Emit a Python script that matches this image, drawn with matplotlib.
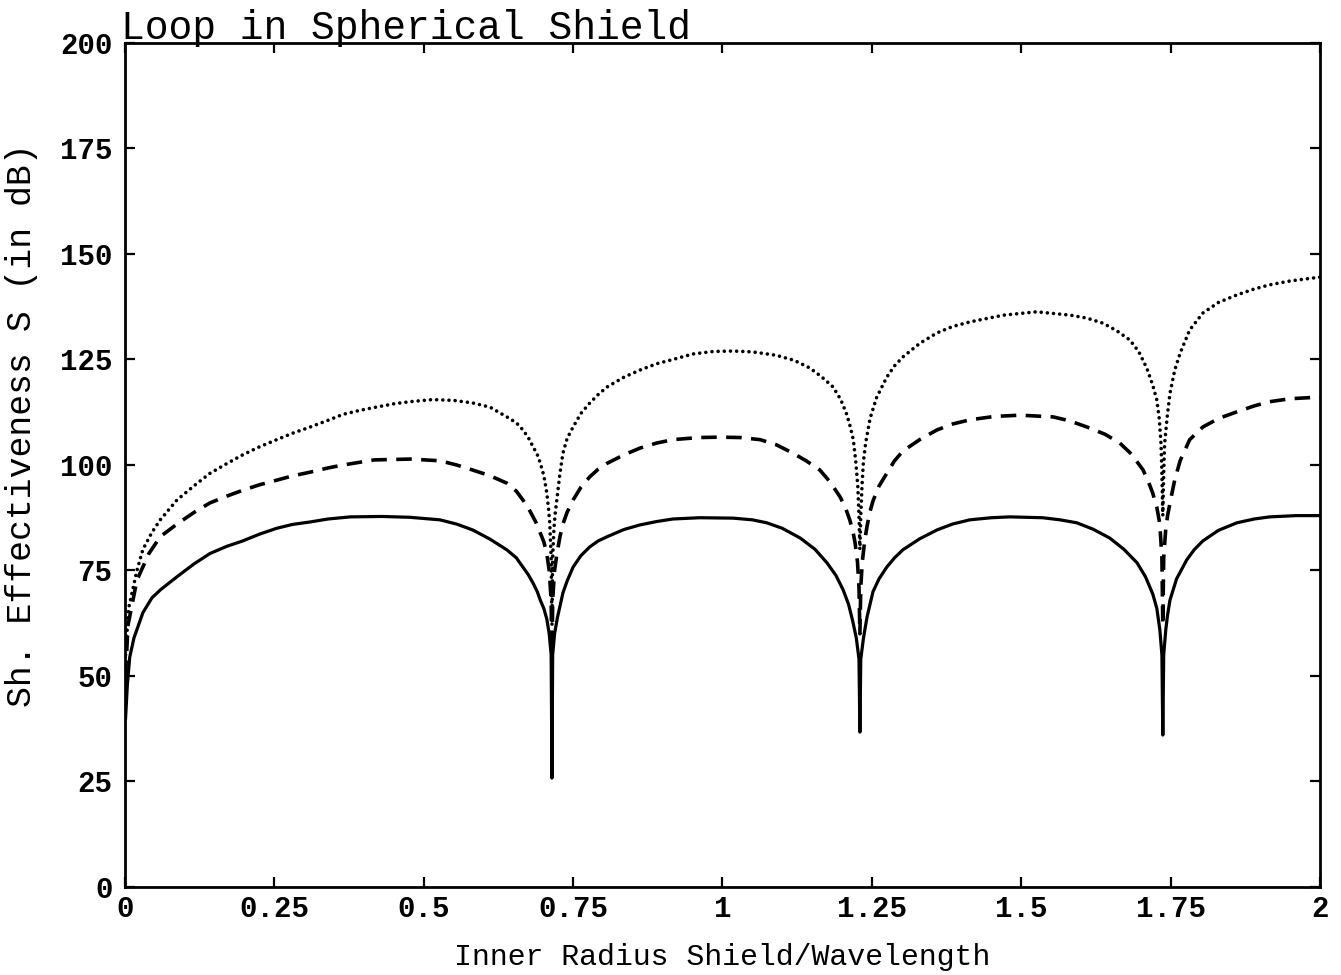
import matplotlib
matplotlib.use("Agg")
import matplotlib.pyplot as plt

# values
solid_x = [0.001, 0.004, 0.008, 0.015, 0.03, 0.045, 0.06, 0.087, 0.115, 0.142, 0.17, 0.197, 0.225, 0.254, 0.28, 0.31,
           0.34, 0.377, 0.43, 0.477, 0.527, 0.555, 0.582, 0.61, 0.639, 0.655, 0.666, 0.675, 0.683, 0.69, 0.695, 0.701,
           0.706, 0.710, 0.7133, 0.7146, 0.7158, 0.719, 0.724, 0.728, 0.733, 0.74, 0.75, 0.763, 0.778, 0.792, 0.807,
           0.835, 0.862, 0.89, 0.917, 0.962, 1.018, 1.05, 1.074, 1.1, 1.13, 1.155, 1.175, 1.19, 1.202, 1.211, 1.218,
           1.224, 1.2285, 1.230, 1.2315, 1.236, 1.242, 1.247, 1.252, 1.262, 1.275, 1.288, 1.302, 1.33, 1.359, 1.385,
           1.414, 1.45, 1.481, 1.536, 1.565, 1.593, 1.62, 1.648, 1.672, 1.694, 1.708, 1.72, 1.727, 1.732, 1.7355,
           1.737, 1.7385, 1.742, 1.745, 1.749, 1.76, 1.777, 1.79, 1.804, 1.83, 1.861, 1.89, 1.916, 1.96, 2.0]
solid_y = [40, 48, 54.5, 59, 65, 68.5, 70.5, 73.5, 76.5, 79, 80.7, 82, 83.6, 85, 85.9, 86.5,
           87.2, 87.7, 87.8, 87.6, 87, 86, 84.6, 82.5, 79.9, 78, 75.8, 74, 72, 70, 68, 66,
           63.5, 60, 55, 25.8, 55, 60, 64, 66.5, 69.7, 72.5, 75.8, 78.5, 80.6, 82, 83,
           84.7, 85.8, 86.6, 87.2, 87.5, 87.4, 87, 86.3, 85, 82.7, 80, 76.8, 73.8, 70.4, 67, 63,
           59, 54, 36.7, 54, 59, 64, 67, 70, 73, 75.8, 78, 79.9, 82.5, 84.6, 86,
           87, 87.5, 87.7, 87.5, 87, 86.3, 84.8, 82.7, 80, 76.8, 73.5, 69.5, 66, 61, 55,
           36, 55, 61, 64.5, 68, 73, 77.5, 80, 82, 84.5, 86.3, 87.2, 87.7, 88, 88]

dash_x = [0.001, 0.005, 0.02, 0.04, 0.059, 0.087, 0.115, 0.142, 0.17, 0.197, 0.225, 0.254, 0.28, 0.31, 0.34, 0.365,
          0.417, 0.477, 0.527, 0.555, 0.582, 0.61, 0.639, 0.655, 0.666, 0.675, 0.683, 0.69, 0.695, 0.701, 0.706,
          0.710, 0.7133, 0.7146, 0.7158, 0.719, 0.723, 0.728, 0.733, 0.74, 0.75, 0.763, 0.778, 0.792, 0.807, 0.835,
          0.862, 0.89, 0.917, 0.96, 0.996, 1.03, 1.063, 1.09, 1.118, 1.14, 1.163, 1.18, 1.197, 1.206, 1.213, 1.218,
          1.222, 1.226, 1.2285, 1.230, 1.2315, 1.234, 1.238, 1.242, 1.247, 1.252, 1.262, 1.275, 1.288, 1.302, 1.33,
          1.359, 1.385, 1.414, 1.455, 1.498, 1.553, 1.58, 1.61, 1.64, 1.665, 1.685, 1.704, 1.713, 1.72, 1.727,
          1.732, 1.7355, 1.737, 1.7385, 1.742, 1.745, 1.749, 1.757, 1.766, 1.782, 1.804, 1.83, 1.861, 1.89, 1.916,
          1.95, 1.988, 2.0]
dash_y = [50, 62, 72.7, 79, 83, 86, 88.7, 91, 92.6, 94, 95.3, 96.4, 97.4, 98.3, 99.3, 100,
          101.2, 101.4, 101, 100, 98.8, 97.5, 95.7, 93.8, 91.7, 89.8, 87.7, 85.8, 83.9, 81.8, 79,
          75, 68, 50, 68, 75, 79, 83, 86, 88.8, 91.7, 94.7, 97.2, 99, 100.4, 102.4,
          104, 105.2, 106, 106.5, 106.6, 106.5, 106, 104.8, 102.8, 101, 98.8, 96, 92.4, 89.8, 87, 84.5,
          81.5, 77, 71, 60, 71, 77, 82, 85.5, 89, 91.5, 95, 98, 101, 103.3, 106,
          108.3, 109.7, 110.7, 111.5, 111.8, 111.4, 110.5, 109, 107.3, 105.2, 102.5, 98.8, 96, 93.4, 90,
          86, 78, 62, 78, 85, 88, 91, 96.5, 101, 106, 109, 111, 112.6, 114, 115,
          115.7, 116, 116]

dot_x = [0.001, 0.006, 0.02, 0.03, 0.045, 0.059, 0.087, 0.115, 0.142, 0.17, 0.197, 0.225, 0.254, 0.28, 0.31, 0.34,
         0.365, 0.395, 0.42, 0.45, 0.477, 0.515, 0.55, 0.582, 0.611, 0.639, 0.655, 0.666, 0.675, 0.683, 0.69, 0.695,
         0.701, 0.706, 0.709, 0.711, 0.7133, 0.7146, 0.7158, 0.718, 0.72, 0.723, 0.728, 0.733, 0.74, 0.75, 0.763,
         0.778, 0.792, 0.807, 0.835, 0.862, 0.89, 0.917, 0.95, 0.985, 1.018, 1.05, 1.09, 1.12, 1.146, 1.165, 1.185,
         1.198, 1.208, 1.214, 1.219, 1.223, 1.2265, 1.2285, 1.230, 1.2315, 1.2335, 1.236, 1.24, 1.247, 1.258,
         1.275, 1.288, 1.302, 1.33, 1.359, 1.385, 1.414, 1.47, 1.526, 1.582, 1.61, 1.637, 1.66, 1.682, 1.697,
         1.71, 1.72, 1.727, 1.731, 1.734, 1.7355, 1.737, 1.7385, 1.74, 1.744, 1.749, 1.757, 1.766, 1.782, 1.804,
         1.83, 1.861, 1.89, 1.916, 1.95, 1.988, 2.0]
dot_y = [55, 66, 75, 80, 84, 87, 91.7, 95, 98, 100.3, 102.4, 104.3, 106, 107.5, 109, 110.6,
         112, 113, 113.7, 114.5, 115, 115.5, 115.3, 114.7, 113.7, 111.4, 110, 108.3, 106.5, 104.3, 102.5, 100.5,
         97.5, 93.4, 89.5, 86, 78, 62, 78, 85, 88.5, 92, 98, 102.8, 106.3, 109, 112.2,
         114.7, 116.7, 118.5, 120.8, 122.5, 124, 125, 126.3, 126.9, 127, 126.8, 126, 124.8, 123, 121, 118.5,
         115.5, 112, 109, 106, 101, 95, 88, 80, 88, 95, 101, 105.5, 111, 116,
         120.8, 123.5, 125.6, 128.8, 131.3, 132.8, 133.9, 135.5, 136.3, 135.5, 134.8, 133.6, 131.8, 129.6, 126.8,
         123, 119, 115.4, 111, 105, 98, 88, 98, 105, 111, 117, 122.5, 126.5, 132, 136,
         138.5, 140.3, 141.7, 142.7, 143.6, 144.3, 144.5]

xticks = [0, 0.25, 0.5, 0.75, 1, 1.25, 1.5, 1.75, 2]
xticklabels = ['0', '0.25', '0.5', '0.75', '1', '1.25', '1.5', '1.75', '2']
yticks = [0, 25, 50, 75, 100, 125, 150, 175, 200]

mono = 'Liberation Mono'

fig = plt.figure(figsize=(13.41, 9.75), dpi=100)
ax = fig.add_axes([0.0932, 0.0903, 0.8911, 0.8656])

ax.plot(solid_x, solid_y, color='black', linewidth=2.3, linestyle='-')
ax.plot(dash_x, dash_y, color='black', linewidth=2.6, linestyle=(0, (4.3, 2.6)))
ax.plot(dot_x, dot_y, color='black', linewidth=2.6, linestyle=(0, (0.01, 1.7)), dash_capstyle='round')

ax.set_xlim(0, 2)
ax.set_ylim(0, 200)
ax.set_xticks(xticks)
ax.set_xticklabels(xticklabels)
ax.set_yticks(yticks)
ax.tick_params(direction='in', length=7, width=1.6, top=True, right=True,
               labelsize=21)
ax.tick_params(axis='x', pad=6)
ax.tick_params(axis='y', pad=9)
for lab in ax.get_xticklabels() + ax.get_yticklabels():
    lab.set_fontfamily(mono)
    lab.set_fontweight('bold')
for s in ax.spines.values():
    s.set_linewidth(2.0)

ax.set_xlabel('Inner Radius Shield/Wavelength', fontfamily=mono, fontsize=21.5)
ax.xaxis.set_label_coords(0.5, -0.0664)
ax.set_ylabel('Sh. Effectiveness S (in dB)', fontfamily=mono, fontsize=25)
ax.yaxis.set_label_coords(-0.0862, 0.547)
ax.yaxis.label.set_verticalalignment('center')
ax.set_title('Loop in Spherical Shield', loc='left', fontfamily=mono, fontsize=28.5, pad=3, x=-0.003)

fig.savefig('out.png', dpi=100)
